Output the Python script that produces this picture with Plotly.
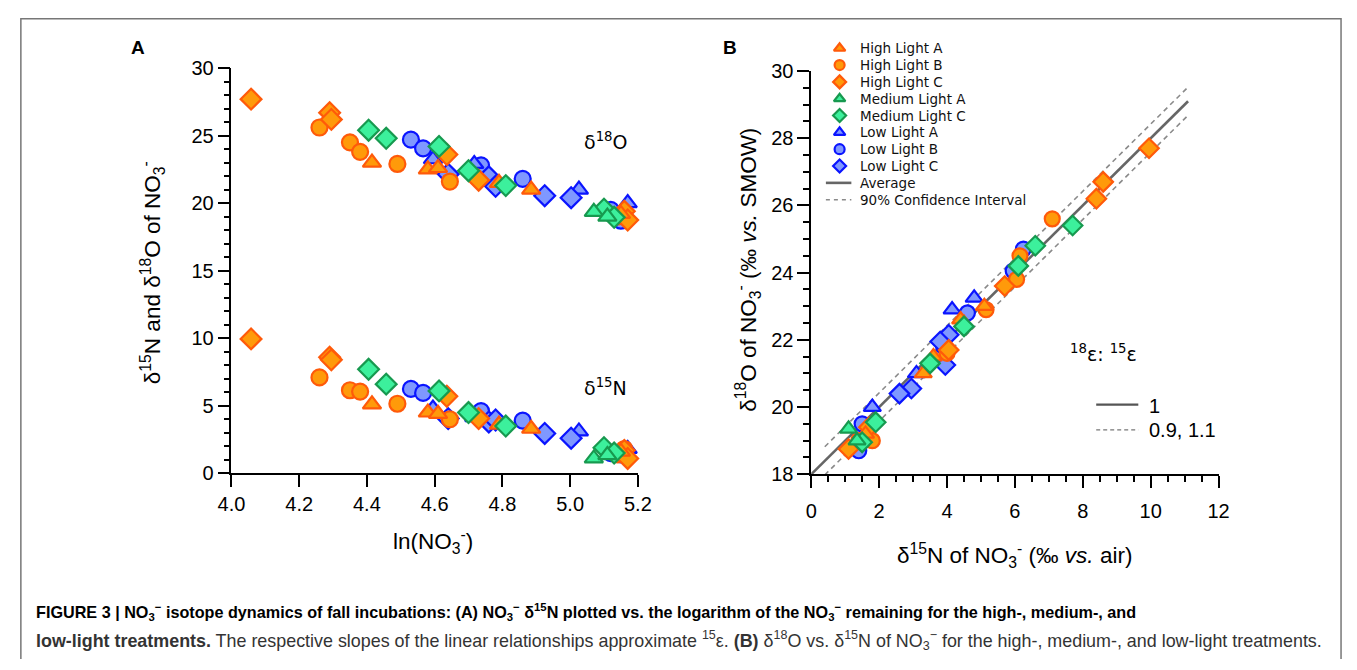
import plotly.graph_objects as go

W, H = 1357, 670

# ---------------------------------------------------------------------------
# ln(NO3-) remaining, d15N and d18O of NO3- (per mil) for each incubation
# ---------------------------------------------------------------------------
high_a_ln = [4.415, 4.58, 4.61, 4.79, 4.885, 5.15]
high_a_d15n = [5.1, 4.5, 4.4, 3.6, 3.3, 1.6]
high_a_d18o = [23.0, 22.5, 22.6, 21.5, 21.0, 19.2]

high_b_ln = [4.26, 4.35, 4.38, 4.49, 4.645, 5.14, 5.16]
high_b_d15n = [7.1, 6.15, 6.05, 5.15, 4.0, 1.4, 1.8]
high_b_d18o = [25.6, 24.5, 23.8, 22.9, 21.6, 19.0, 19.0]

high_c_ln = [4.058, 4.29, 4.295, 4.636, 4.73, 5.16, 5.17]
high_c_d15n = [9.95, 8.6, 8.4, 5.7, 4.05, 1.7, 1.1]
high_c_d18o = [27.7, 26.7, 26.2, 23.6, 21.7, 19.4, 18.75]

med_a_ln = [5.07, 5.11]
med_a_d15n = [1.1, 1.35]
med_a_d18o = [19.35, 19.0]

med_c_ln = [4.405, 4.457, 4.613, 4.70, 4.81, 5.10, 5.13]
med_c_d15n = [7.7, 6.6, 6.1, 4.5, 3.5, 1.9, 1.5]
med_c_d18o = [25.4, 24.8, 24.2, 22.4, 21.3, 19.55, 18.95]

low_a_ln = [4.595, 4.717, 5.026, 5.17]
low_a_d15n = [4.8, 4.15, 3.1, 1.8]
low_a_d18o = [23.25, 22.9, 21.0, 20.0]

low_b_ln = [4.53, 4.566, 4.737, 4.86, 5.12, 5.15]
low_b_d15n = [6.25, 5.95, 4.6, 3.9, 1.5, 1.4]
low_b_d18o = [24.7, 24.05, 22.8, 21.8, 19.5, 18.7]

low_c_ln = [4.64, 4.76, 4.78, 4.925, 5.003]
low_c_d15n = [4.05, 3.8, 3.95, 2.95, 2.6]
low_c_d18o = [22.15, 21.95, 21.25, 20.55, 20.4]

# 18e:15e reference lines (d18O = intercept + ratio * d15N)
line_intercept = 18.0
avg_ratio = 1.0
ci_offset = 0.42
line_x = [0.0, 11.1]
ci_x = [0.4, 11.1]

# axis ticks
a_xticks = [4.0, 4.2, 4.4, 4.6, 4.8, 5.0, 5.2]
a_yticks = [0, 5, 10, 15, 20, 25, 30]
b_xticks = [0, 2, 4, 6, 8, 10, 12]
b_yticks = [18, 20, 22, 24, 26, 28, 30]

legend_names = ["High Light A", "High Light B", "High Light C",
                "Medium Light A", "Medium Light C",
                "Low Light A", "Low Light B", "Low Light C"]

# ---------------------------------------------------------------------------
ORANGE = ("#ff9a0a", "#ff5a0a")
GREEN = ("#3cf09c", "#17994f")
BLUE = ("#7f98ff", "#0a14ff")

STYLE = {
    "High Light A": ("triangle-up", ORANGE),
    "High Light B": ("circle", ORANGE),
    "High Light C": ("diamond", ORANGE),
    "Medium Light A": ("triangle-up", GREEN),
    "Medium Light C": ("diamond", GREEN),
    "Low Light A": ("triangle-up", BLUE),
    "Low Light B": ("circle", BLUE),
    "Low Light C": ("diamond", BLUE),
}

series = {
    "High Light A": (high_a_ln, high_a_d15n, high_a_d18o),
    "High Light B": (high_b_ln, high_b_d15n, high_b_d18o),
    "High Light C": (high_c_ln, high_c_d15n, high_c_d18o),
    "Medium Light A": (med_a_ln, med_a_d15n, med_a_d18o),
    "Medium Light C": (med_c_ln, med_c_d15n, med_c_d18o),
    "Low Light A": (low_a_ln, low_a_d15n, low_a_d18o),
    "Low Light B": (low_b_ln, low_b_d15n, low_b_d18o),
    "Low Light C": (low_c_ln, low_c_d15n, low_c_d18o),
}
draw_order = ["Low Light B", "Low Light A", "Low Light C",
              "High Light B", "High Light C", "High Light A",
              "Medium Light C", "Medium Light A"]

SANS = "Liberation Sans, Arial, Helvetica, sans-serif"
TICK_FONT = dict(family=SANS, size=20, color="black")
TITLE_FONT = dict(family=SANS, size=22.5, color="black")
LEG_FONT = dict(family="DejaVu Sans, Verdana, sans-serif", size=13.5, color="#111")


def marker(name, size):
    sym, (fill, edge) = STYLE[name]
    return dict(symbol=sym, size=size, color=fill, line=dict(color=edge, width=2.2))


fig = go.Figure()

# panel A: d18O and d15N vs ln(NO3-)
for name in draw_order:
    ln, d15, d18 = series[name]
    for vals in (d18, d15):
        fig.add_trace(go.Scatter(x=ln, y=vals, mode="markers", xaxis="x", yaxis="y",
                                 marker=marker(name, 16), showlegend=False,
                                 cliponaxis=False))

# panel B: reference lines
avg_y = [line_intercept + avg_ratio * x for x in line_x]
hi_y = [line_intercept + ci_offset + avg_ratio * x for x in ci_x]
lo_y = [line_intercept - ci_offset + avg_ratio * x for x in ci_x]
for ys in (hi_y, lo_y):
    fig.add_trace(go.Scatter(x=ci_x, y=ys, mode="lines", xaxis="x2", yaxis="y2",
                             line=dict(color="#8a8a8a", width=1.6, dash="5px,4px"),
                             showlegend=False))
fig.add_trace(go.Scatter(x=line_x, y=avg_y, mode="lines", xaxis="x2", yaxis="y2",
                         line=dict(color="#666666", width=2.6), showlegend=False))

# panel B: d18O vs d15N
for name in draw_order:
    ln, d15, d18 = series[name]
    fig.add_trace(go.Scatter(x=d15, y=d18, mode="markers", xaxis="x2", yaxis="y2",
                             marker=marker(name, 15), showlegend=False,
                             cliponaxis=False))

# ---------------------------------------------------------------------------
# key for panel B, drawn on a pixel-space overlay axis (x3/y3)
leg_x, leg_text_x, leg_top, leg_step = 843, 862, 38.5, 17.4
annotations = []
for i, name in enumerate(legend_names):
    yy = leg_top + i * leg_step
    fig.add_trace(go.Scatter(x=[leg_x], y=[yy], mode="markers", xaxis="x3", yaxis="y3",
                             marker=marker(name, 10), showlegend=False))
    annotations.append(dict(x=leg_text_x, y=yy, xref="x3", yref="y3", text=name,
                            showarrow=False, xanchor="left", yanchor="middle",
                            font=LEG_FONT))
yy = leg_top + 8 * leg_step
fig.add_trace(go.Scatter(x=[829, 855], y=[yy, yy], mode="lines", xaxis="x3", yaxis="y3",
                         line=dict(color="#666", width=2.6), showlegend=False))
annotations.append(dict(x=leg_text_x, y=yy, xref="x3", yref="y3", text="Average",
                        showarrow=False, xanchor="left", yanchor="middle", font=LEG_FONT))
yy = leg_top + 9 * leg_step
fig.add_trace(go.Scatter(x=[829, 855], y=[yy, yy], mode="lines", xaxis="x3", yaxis="y3",
                         line=dict(color="#8a8a8a", width=1.6, dash="4px,4px"),
                         showlegend=False))
annotations.append(dict(x=leg_text_x, y=yy, xref="x3", yref="y3",
                        text="90% Confidence Interval", showarrow=False,
                        xanchor="left", yanchor="middle", font=LEG_FONT))

# ratio key
fig.add_trace(go.Scatter(x=[1105, 1148], y=[407, 407], mode="lines", xaxis="x3", yaxis="y3",
                         line=dict(color="#555", width=2.2), showlegend=False))
fig.add_trace(go.Scatter(x=[1105, 1148], y=[433, 433], mode="lines", xaxis="x3", yaxis="y3",
                         line=dict(color="#777", width=1.2, dash="4px,3px"),
                         showlegend=False))


def txt(x, y, text, font, **kw):
    d = dict(x=x, y=y, xref="x3", yref="y3", text=text, showarrow=False, font=font,
             xanchor=kw.pop("xanchor", "center"), yanchor=kw.pop("yanchor", "middle"))
    d.update(kw)
    annotations.append(d)


NUM_FONT = dict(family=SANS, size=20, color="black")
txt(1157, 408, "1", NUM_FONT, xanchor="left")
txt(1157, 433, "0.9, 1.1", NUM_FONT, xanchor="left")
txt(1112, 354, "<sup>18</sup>ε: <sup>15</sup>ε",
    dict(family="DejaVu Sans, sans-serif", size=19, color="black"))

# panel labels and in-plot labels
BOLD = dict(family=SANS, size=19, color="black")
txt(127, 38, "<b>A</b>", BOLD)
txt(731, 38, "<b>B</b>", BOLD)
txt(604, 134, "δ<sup>18</sup>O", dict(family="DejaVu Sans, sans-serif", size=19, color="black"))
txt(604, 389, "δ<sup>15</sup>N", dict(family="DejaVu Sans, sans-serif", size=19, color="black"))

# axis titles
txt(428, 549, "ln(NO<sub>3</sub><sup>-</sup>)", TITLE_FONT)
txt(141, 271, "δ<sup>15</sup>N and δ<sup>18</sup>O of NO<sub>3</sub><sup>-</sup>", TITLE_FONT,
    textangle=-90)
txt(1022, 563, "δ<sup>15</sup>N of NO<sub>3</sub><sup>-</sup> (‰ <i>vs.</i> air)", TITLE_FONT)
txt(749, 268, "δ<sup>18</sup>O of NO<sub>3</sub><sup>-</sup> (‰ <i>vs.</i> SMOW)", TITLE_FONT,
    textangle=-90)

# caption
CAP_B = dict(family=SANS, size=16.2, color="black")
CAP_N = dict(family=SANS, size=17.9, color="#333")
txt(20, 621,
    "<b>FIGURE 3 | NO<sub>3</sub><sup>−</sup> isotope dynamics of fall incubations: "
    "(A) NO<sub>3</sub><sup>−</sup> δ<sup>15</sup>N plotted vs. the logarithm of the "
    "NO<sub>3</sub><sup>−</sup> remaining for the high-, medium-, and</b>",
    CAP_B, xanchor="left")
txt(20, 651,
    "<b>low-light treatments.</b> The respective slopes of the linear relationships "
    "approximate <sup>15</sup>ε. <b>(B)</b> δ<sup>18</sup>O vs. δ<sup>15</sup>N of "
    "NO<sub>3</sub><sup>−</sup> for the high-, medium-, and low-light treatments.",
    CAP_N, xanchor="left")

# ---------------------------------------------------------------------------
def dom_x(left, right):
    return [left / W, right / W]


def dom_y(bottom, top):
    return [1 - bottom / H, 1 - top / H]


axis_common = dict(showline=True, linecolor="black", linewidth=1.5, showgrid=False,
                   zeroline=False, ticks="outside", ticklen=12, tickwidth=1.5,
                   tickcolor="black", tickfont=TICK_FONT, fixedrange=True)
minor_05 = dict(dtick=0.5, ticklen=6, tickwidth=1.5, tickcolor="black", ticks="outside")

fig.update_layout(
    width=W, height=H, margin=dict(l=0, r=0, t=0, b=0),
    paper_bgcolor="white", plot_bgcolor="rgba(0,0,0,0)", showlegend=False,
    xaxis=dict(domain=dom_x(222, 637), range=[4.0, 5.2], anchor="y",
               tickvals=a_xticks, ticktext=[f"{v:.1f}" for v in a_xticks], **axis_common),
    yaxis=dict(domain=dom_y(478, 59), range=[0, 30], anchor="x", tickvals=a_yticks,
               minor=dict(dtick=1, ticklen=6, tickwidth=1.5, tickcolor="black",
                          ticks="outside"),
               **axis_common),
    xaxis2=dict(domain=dom_x(814, 1230), range=[0, 12], anchor="y2", tickvals=b_xticks,
                minor=minor_05, ticklabelstandoff=6, **axis_common),
    yaxis2=dict(domain=dom_y(479, 62), range=[18, 30], anchor="x2", tickvals=b_yticks,
                minor=minor_05, **axis_common),
    xaxis3=dict(domain=[0, 1], range=[0, W], anchor="y3", visible=False, fixedrange=True),
    yaxis3=dict(domain=[0, 1], range=[H, 0], anchor="x3", visible=False, fixedrange=True),
    annotations=annotations,
    shapes=[dict(type="rect", xref="x3", yref="y3", x0=7, y0=8, x1=1355, y1=700,
                 line=dict(color="#777", width=1.5), layer="below")],
)

fig.write_html("out.html")
